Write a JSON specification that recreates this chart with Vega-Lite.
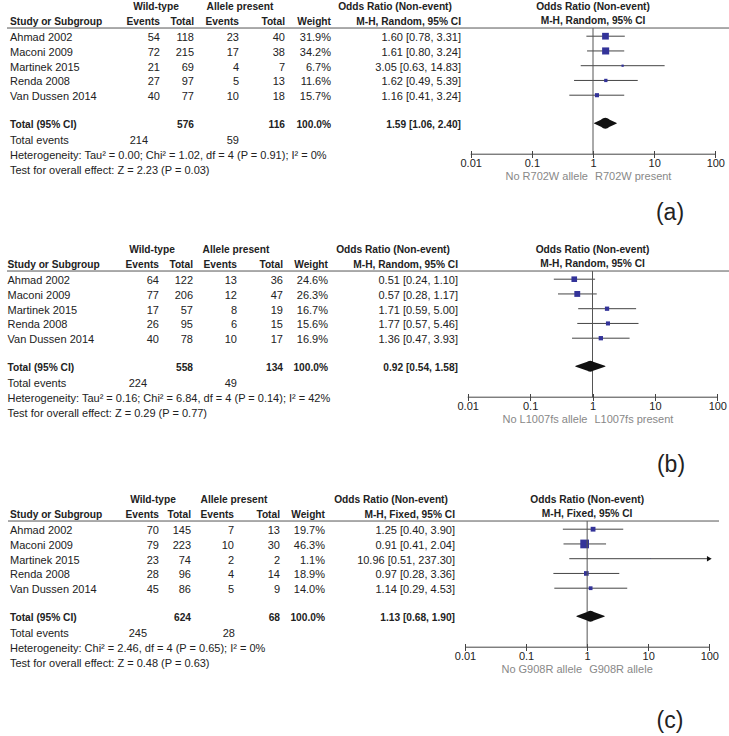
{
"$schema": "https://vega.github.io/schema/vega-lite/v6.json",
"padding": 0,
"spacing": 0,
"background": "white",
"config": {"view": {"stroke": null}, "text": {"font": "Liberation Sans", "fontSize": 11, "color": "#222", "baseline": "middle"},
"axis": {"labelFont": "Liberation Sans", "labelFontSize": 11, "labelColor": "#222", "tickColor": "#444", "tickSize": 7, "domain": false, "grid": false, "labelPadding": 0, "labelFlush": false, "labelOverlap": false}},
"datasets": {
"studies": [
{"p":"a","row":1,"study":"Ahmad 2002","we":54,"wt":118,"ae":23,"at":40,"w":0.319,"or":1.60,"lo":0.78,"hi":3.31},
{"p":"a","row":2,"study":"Maconi 2009","we":72,"wt":215,"ae":17,"at":38,"w":0.342,"or":1.61,"lo":0.80,"hi":3.24},
{"p":"a","row":3,"study":"Martinek 2015","we":21,"wt":69,"ae":4,"at":7,"w":0.067,"or":3.05,"lo":0.63,"hi":14.83},
{"p":"a","row":4,"study":"Renda 2008","we":27,"wt":97,"ae":5,"at":13,"w":0.116,"or":1.62,"lo":0.49,"hi":5.39},
{"p":"a","row":5,"study":"Van Dussen 2014","we":40,"wt":77,"ae":10,"at":18,"w":0.157,"or":1.16,"lo":0.41,"hi":3.24},
{"p":"b","row":1,"study":"Ahmad 2002","we":64,"wt":122,"ae":13,"at":36,"w":0.246,"or":0.51,"lo":0.24,"hi":1.10},
{"p":"b","row":2,"study":"Maconi 2009","we":77,"wt":206,"ae":12,"at":47,"w":0.263,"or":0.57,"lo":0.28,"hi":1.17},
{"p":"b","row":3,"study":"Martinek 2015","we":17,"wt":57,"ae":8,"at":19,"w":0.167,"or":1.71,"lo":0.59,"hi":5.00},
{"p":"b","row":4,"study":"Renda 2008","we":26,"wt":95,"ae":6,"at":15,"w":0.156,"or":1.77,"lo":0.57,"hi":5.46},
{"p":"b","row":5,"study":"Van Dussen 2014","we":40,"wt":78,"ae":10,"at":17,"w":0.169,"or":1.36,"lo":0.47,"hi":3.93},
{"p":"c","row":1,"study":"Ahmad 2002","we":70,"wt":145,"ae":7,"at":13,"w":0.197,"or":1.25,"lo":0.40,"hi":3.90},
{"p":"c","row":2,"study":"Maconi 2009","we":79,"wt":223,"ae":10,"at":30,"w":0.463,"or":0.91,"lo":0.41,"hi":2.04},
{"p":"c","row":3,"study":"Martinek 2015","we":23,"wt":74,"ae":2,"at":2,"w":0.011,"or":10.96,"lo":0.51,"hi":237.30},
{"p":"c","row":4,"study":"Renda 2008","we":28,"wt":96,"ae":4,"at":14,"w":0.189,"or":0.97,"lo":0.28,"hi":3.36},
{"p":"c","row":5,"study":"Van Dussen 2014","we":45,"wt":86,"ae":5,"at":9,"w":0.140,"or":1.14,"lo":0.29,"hi":4.53}
],
"totals": [
{"p":"a","wt":576,"at":116,"w":1,"or":1.59,"lo":1.06,"hi":2.40,"tw":214,"ta":59,"method":"Random","het":"Heterogeneity: Tau² = 0.00; Chi² = 1.02, df = 4 (P = 0.91); I² = 0%","test":"Test for overall effect: Z = 2.23 (P = 0.03)","left":"No R702W allele","right":"R702W present","label":"(a)"},
{"p":"b","wt":558,"at":134,"w":1,"or":0.92,"lo":0.54,"hi":1.58,"tw":224,"ta":49,"method":"Random","het":"Heterogeneity: Tau² = 0.16; Chi² = 6.84, df = 4 (P = 0.14); I² = 42%","test":"Test for overall effect: Z = 0.29 (P = 0.77)","left":"No L1007fs allele","right":"L1007fs present","label":"(b)"},
{"p":"c","wt":624,"at":68,"w":1,"or":1.13,"lo":0.68,"hi":1.90,"tw":245,"ta":28,"method":"Fixed","het":"Heterogeneity: Chi² = 2.46, df = 4 (P = 0.65); I² = 0%","test":"Test for overall effect: Z = 0.48 (P = 0.63)","left":"No G908R allele","right":"G908R allele","label":"(c)"}
]
},
"vconcat": [
{
"width": 729, "height": 243,
"resolve": {"scale": {"x": "independent", "y": "independent"}},
"layer": [
{"layer": [
{"data": {"name": "studies"},
"transform": [{"filter": "datum.p === 'a'"},{"calculate": "format(datum.w, '.1%')", "as": "wtxt"},{"calculate": "format(datum.or, '.2f') + ' [' + format(datum.lo, '.2f') + ', ' + format(datum.hi, '.2f') + ']'", "as": "ci"}],
"encoding": {"y": {"field": "row", "type": "quantitative", "scale": {"domain": [-1, 10], "range": [8.7, 170.95], "nice": false, "zero": false}, "axis": null}},
"layer": [
{"mark": {"type": "text", "align": "left"}, "encoding": {"x": {"datum": 10, "scale": {"domain": [0, 729], "range": [0, 729], "nice": false}, "axis": null}, "text": {"field": "study"}}},
{"mark": {"type": "text", "align": "right"}, "encoding": {"x": {"datum": 160, "axis": null}, "text": {"field": "we"}}},
{"mark": {"type": "text", "align": "right"}, "encoding": {"x": {"datum": 194, "axis": null}, "text": {"field": "wt"}}},
{"mark": {"type": "text", "align": "right"}, "encoding": {"x": {"datum": 239, "axis": null}, "text": {"field": "ae"}}},
{"mark": {"type": "text", "align": "right"}, "encoding": {"x": {"datum": 285, "axis": null}, "text": {"field": "at"}}},
{"mark": {"type": "text", "align": "right"}, "encoding": {"x": {"datum": 331, "axis": null}, "text": {"field": "wtxt"}}},
{"mark": {"type": "text", "align": "right"}, "encoding": {"x": {"datum": 461, "axis": null}, "text": {"field": "ci"}}}
]},
{"data": {"name": "totals"},
"transform": [{"filter": "datum.p === 'a'"},{"calculate": "format(datum.w, '.1%')", "as": "wtxt"},{"calculate": "format(datum.or, '.2f') + ' [' + format(datum.lo, '.2f') + ', ' + format(datum.hi, '.2f') + ']'", "as": "ci"},{"calculate": "'M-H, ' + datum.method + ', 95% CI'", "as": "mh"}],
"layer": [
{"mark": {"type": "rule", "color": "#555", "strokeWidth": 1}, "encoding": {"x": {"datum": 7, "scale": {"domain": [0, 729], "range": [0, 729], "nice": false}, "axis": null}, "x2": {"datum": 729}, "y": {"datum": 0.31, "scale": {"domain": [-1, 10], "range": [8.7, 170.95], "nice": false, "zero": false}, "axis": null}}},
{"mark": {"type": "text", "align": "center", "fontWeight": "bold", "fontSize": 10.2}, "encoding": {"x": {"datum": 156, "axis": null}, "y": {"datum": -1.14, "axis": null}, "text": {"value": "Wild-type"}}},
{"mark": {"type": "text", "align": "center", "fontWeight": "bold", "fontSize": 10.2}, "encoding": {"x": {"datum": 240, "axis": null}, "y": {"datum": -1.14, "axis": null}, "text": {"value": "Allele present"}}},
{"mark": {"type": "text", "align": "center", "fontWeight": "bold", "fontSize": 10.2}, "encoding": {"x": {"datum": 395, "axis": null}, "y": {"datum": -1.14, "axis": null}, "text": {"value": "Odds Ratio (Non-event)"}}},
{"mark": {"type": "text", "align": "left", "fontWeight": "bold", "fontSize": 10.2}, "encoding": {"x": {"datum": 10, "axis": null}, "y": {"datum": -0.13, "axis": null}, "text": {"value": "Study or Subgroup"}}},
{"mark": {"type": "text", "align": "right", "fontWeight": "bold", "fontSize": 10.2}, "encoding": {"x": {"datum": 160, "axis": null}, "y": {"datum": -0.13, "axis": null}, "text": {"value": "Events"}}},
{"mark": {"type": "text", "align": "right", "fontWeight": "bold", "fontSize": 10.2}, "encoding": {"x": {"datum": 194, "axis": null}, "y": {"datum": -0.13, "axis": null}, "text": {"value": "Total"}}},
{"mark": {"type": "text", "align": "right", "fontWeight": "bold", "fontSize": 10.2}, "encoding": {"x": {"datum": 239, "axis": null}, "y": {"datum": -0.13, "axis": null}, "text": {"value": "Events"}}},
{"mark": {"type": "text", "align": "right", "fontWeight": "bold", "fontSize": 10.2}, "encoding": {"x": {"datum": 285, "axis": null}, "y": {"datum": -0.13, "axis": null}, "text": {"value": "Total"}}},
{"mark": {"type": "text", "align": "right", "fontWeight": "bold", "fontSize": 10.2}, "encoding": {"x": {"datum": 331, "axis": null}, "y": {"datum": -0.13, "axis": null}, "text": {"value": "Weight"}}},
{"mark": {"type": "text", "align": "right", "fontWeight": "bold", "fontSize": 10.2}, "encoding": {"x": {"datum": 461, "axis": null}, "y": {"datum": -0.13, "axis": null}, "text": {"field": "mh"}}},
{"mark": {"type": "text", "align": "left", "fontWeight": "bold", "fontSize": 10.2}, "encoding": {"x": {"datum": 10, "axis": null}, "y": {"datum": 6.86, "axis": null}, "text": {"value": "Total (95% CI)"}}},
{"mark": {"type": "text", "align": "right", "fontWeight": "bold", "fontSize": 10.2}, "encoding": {"x": {"datum": 194, "axis": null}, "y": {"datum": 6.86, "axis": null}, "text": {"field": "wt"}}},
{"mark": {"type": "text", "align": "right", "fontWeight": "bold", "fontSize": 10.2}, "encoding": {"x": {"datum": 285, "axis": null}, "y": {"datum": 6.86, "axis": null}, "text": {"field": "at"}}},
{"mark": {"type": "text", "align": "right", "fontWeight": "bold", "fontSize": 10.2}, "encoding": {"x": {"datum": 331, "axis": null}, "y": {"datum": 6.86, "axis": null}, "text": {"field": "wtxt"}}},
{"mark": {"type": "text", "align": "right", "fontWeight": "bold", "fontSize": 10.2}, "encoding": {"x": {"datum": 461, "axis": null}, "y": {"datum": 6.86, "axis": null}, "text": {"field": "ci"}}},
{"mark": {"type": "text", "align": "left"}, "encoding": {"x": {"datum": 10, "axis": null}, "y": {"datum": 8, "axis": null}, "text": {"value": "Total events"}}},
{"mark": {"type": "text", "align": "right"}, "encoding": {"x": {"datum": 148, "axis": null}, "y": {"datum": 8, "axis": null}, "text": {"field": "tw"}}},
{"mark": {"type": "text", "align": "right"}, "encoding": {"x": {"datum": 239, "axis": null}, "y": {"datum": 8, "axis": null}, "text": {"field": "ta"}}},
{"mark": {"type": "text", "align": "left"}, "encoding": {"x": {"datum": 10, "axis": null}, "y": {"datum": 8.96, "axis": null}, "text": {"field": "het"}}},
{"mark": {"type": "text", "align": "left"}, "encoding": {"x": {"datum": 10, "axis": null}, "y": {"datum": 10, "axis": null}, "text": {"field": "test"}}},
{"mark": {"type": "text", "align": "center", "fontSize": 23}, "encoding": {"x": {"datum": 670, "axis": null}, "y": {"datum": 12.85, "axis": null}, "text": {"field": "label"}}}
]}
]},
{"layer": [
{"data": {"name": "studies"},
"transform": [{"filter": "datum.p === 'a'"}],
"encoding": {"y": {"field": "row", "type": "quantitative", "scale": {"domain": [-1, 10], "range": [6.7, 168.95], "nice": false, "zero": false}, "axis": null}},
"layer": [
{"mark": {"type": "rule", "color": "#444", "strokeWidth": 1}, "encoding": {"x": {"field": "lo", "type": "quantitative", "scale": {"type": "log", "domain": [0.01, 100], "range": [470.7, 715.3], "clamp": true, "nice": false}, "axis": {"values": [0.01, 0.1, 1, 10, 100], "format": "~g", "title": null, "offset": -92.5}}, "x2": {"field": "hi"}}},
{"mark": {"type": "point", "shape": "square", "filled": true, "color": "#333399", "opacity": 1, "strokeWidth": 0}, "encoding": {"x": {"field": "or", "type": "quantitative", "axis": {"values": [0.01, 0.1, 1, 10, 100], "format": "~g", "title": null, "offset": -92.5}}, "size": {"field": "w", "type": "quantitative", "scale": {"type": "pow", "exponent": 1.4, "domain": [0, 0.5], "range": [0, 85]}, "legend": null}}},
{"transform": [{"filter": "datum.hi > 100"}], "mark": {"type": "point", "shape": "triangle-right", "filled": true, "color": "#111", "size": 30, "opacity": 1}, "encoding": {"x": {"field": "hi", "type": "quantitative", "axis": {"values": [0.01, 0.1, 1, 10, 100], "format": "~g", "title": null, "offset": -92.5}}}}
]},
{"data": {"name": "totals"},
"transform": [{"filter": "datum.p === 'a'"},{"calculate": "'M-H, ' + datum.method + ', 95% CI'", "as": "mh"}],
"layer": [
{"mark": {"type": "rule", "color": "#555", "strokeWidth": 1}, "encoding": {"x": {"datum": 1, "axis": {"values": [0.01, 0.1, 1, 10, 100], "format": "~g", "title": null, "offset": -92.5}}, "y": {"datum": 0.45, "scale": {"domain": [-1, 10], "range": [6.7, 168.95], "nice": false, "zero": false}, "axis": null}, "y2": {"datum": 9}}},
{"mark": {"type": "rule", "color": "#444", "strokeWidth": 1}, "encoding": {"x": {"datum": 0.01, "axis": {"values": [0.01, 0.1, 1, 10, 100], "format": "~g", "title": null, "offset": -92.5}}, "x2": {"datum": 100}, "y": {"datum": 9, "axis": null}}},
{"transform": [{"fold": ["lo", "or", "hi"], "as": ["key", "val"]}], "mark": {"type": "trail", "color": "#111"}, "encoding": {"x": {"field": "val", "type": "quantitative", "axis": {"values": [0.01, 0.1, 1, 10, 100], "format": "~g", "title": null, "offset": -92.5}}, "y": {"datum": 6.9, "axis": null}, "order": {"field": "val", "type": "quantitative"}, "size": {"condition": {"test": "datum.key === 'or'", "value": 11}, "value": 0}}},
{"mark": {"type": "text", "align": "center", "fontWeight": "bold", "fontSize": 10.2}, "encoding": {"x": {"datum": 1, "axis": {"values": [0.01, 0.1, 1, 10, 100], "format": "~g", "title": null, "offset": -92.5}}, "y": {"datum": -1, "axis": null}, "text": {"value": "Odds Ratio (Non-event)"}}},
{"mark": {"type": "text", "align": "center", "fontWeight": "bold", "fontSize": 10.2}, "encoding": {"x": {"datum": 1, "axis": {"values": [0.01, 0.1, 1, 10, 100], "format": "~g", "title": null, "offset": -92.5}}, "y": {"datum": 0, "axis": null}, "text": {"field": "mh"}}},
{"mark": {"type": "text", "align": "right", "dx": -5, "color": "#888"}, "encoding": {"x": {"datum": 1, "axis": {"values": [0.01, 0.1, 1, 10, 100], "format": "~g", "title": null, "offset": -92.5}}, "y": {"datum": 10.52, "axis": null}, "text": {"field": "left"}}},
{"mark": {"type": "text", "align": "left", "dx": 2, "color": "#888"}, "encoding": {"x": {"datum": 1, "axis": {"values": [0.01, 0.1, 1, 10, 100], "format": "~g", "title": null, "offset": -92.5}}, "y": {"datum": 10.52, "axis": null}, "text": {"field": "right"}}}
]}
]}
]
},
{
"width": 729, "height": 250,
"resolve": {"scale": {"x": "independent", "y": "independent"}},
"layer": [
{"layer": [
{"data": {"name": "studies"},
"transform": [{"filter": "datum.p === 'b'"},{"calculate": "format(datum.w, '.1%')", "as": "wtxt"},{"calculate": "format(datum.or, '.2f') + ' [' + format(datum.lo, '.2f') + ', ' + format(datum.hi, '.2f') + ']'", "as": "ci"}],
"encoding": {"y": {"field": "row", "type": "quantitative", "scale": {"domain": [-1, 10], "range": [8.7, 170.95], "nice": false, "zero": false}, "axis": null}},
"layer": [
{"mark": {"type": "text", "align": "left"}, "encoding": {"x": {"datum": 7.5, "scale": {"domain": [0, 729], "range": [0, 729], "nice": false}, "axis": null}, "text": {"field": "study"}}},
{"mark": {"type": "text", "align": "right"}, "encoding": {"x": {"datum": 159, "axis": null}, "text": {"field": "we"}}},
{"mark": {"type": "text", "align": "right"}, "encoding": {"x": {"datum": 193, "axis": null}, "text": {"field": "wt"}}},
{"mark": {"type": "text", "align": "right"}, "encoding": {"x": {"datum": 237, "axis": null}, "text": {"field": "ae"}}},
{"mark": {"type": "text", "align": "right"}, "encoding": {"x": {"datum": 283, "axis": null}, "text": {"field": "at"}}},
{"mark": {"type": "text", "align": "right"}, "encoding": {"x": {"datum": 328, "axis": null}, "text": {"field": "wtxt"}}},
{"mark": {"type": "text", "align": "right"}, "encoding": {"x": {"datum": 458, "axis": null}, "text": {"field": "ci"}}}
]},
{"data": {"name": "totals"},
"transform": [{"filter": "datum.p === 'b'"},{"calculate": "format(datum.w, '.1%')", "as": "wtxt"},{"calculate": "format(datum.or, '.2f') + ' [' + format(datum.lo, '.2f') + ', ' + format(datum.hi, '.2f') + ']'", "as": "ci"},{"calculate": "'M-H, ' + datum.method + ', 95% CI'", "as": "mh"}],
"layer": [
{"mark": {"type": "rule", "color": "#555", "strokeWidth": 1}, "encoding": {"x": {"datum": 7, "scale": {"domain": [0, 729], "range": [0, 729], "nice": false}, "axis": null}, "x2": {"datum": 729}, "y": {"datum": 0.31, "scale": {"domain": [-1, 10], "range": [8.7, 170.95], "nice": false, "zero": false}, "axis": null}}},
{"mark": {"type": "text", "align": "center", "fontWeight": "bold", "fontSize": 10.2}, "encoding": {"x": {"datum": 152, "axis": null}, "y": {"datum": -1.14, "axis": null}, "text": {"value": "Wild-type"}}},
{"mark": {"type": "text", "align": "center", "fontWeight": "bold", "fontSize": 10.2}, "encoding": {"x": {"datum": 236, "axis": null}, "y": {"datum": -1.14, "axis": null}, "text": {"value": "Allele present"}}},
{"mark": {"type": "text", "align": "center", "fontWeight": "bold", "fontSize": 10.2}, "encoding": {"x": {"datum": 393, "axis": null}, "y": {"datum": -1.14, "axis": null}, "text": {"value": "Odds Ratio (Non-event)"}}},
{"mark": {"type": "text", "align": "left", "fontWeight": "bold", "fontSize": 10.2}, "encoding": {"x": {"datum": 7.5, "axis": null}, "y": {"datum": -0.13, "axis": null}, "text": {"value": "Study or Subgroup"}}},
{"mark": {"type": "text", "align": "right", "fontWeight": "bold", "fontSize": 10.2}, "encoding": {"x": {"datum": 159, "axis": null}, "y": {"datum": -0.13, "axis": null}, "text": {"value": "Events"}}},
{"mark": {"type": "text", "align": "right", "fontWeight": "bold", "fontSize": 10.2}, "encoding": {"x": {"datum": 193, "axis": null}, "y": {"datum": -0.13, "axis": null}, "text": {"value": "Total"}}},
{"mark": {"type": "text", "align": "right", "fontWeight": "bold", "fontSize": 10.2}, "encoding": {"x": {"datum": 237, "axis": null}, "y": {"datum": -0.13, "axis": null}, "text": {"value": "Events"}}},
{"mark": {"type": "text", "align": "right", "fontWeight": "bold", "fontSize": 10.2}, "encoding": {"x": {"datum": 283, "axis": null}, "y": {"datum": -0.13, "axis": null}, "text": {"value": "Total"}}},
{"mark": {"type": "text", "align": "right", "fontWeight": "bold", "fontSize": 10.2}, "encoding": {"x": {"datum": 328, "axis": null}, "y": {"datum": -0.13, "axis": null}, "text": {"value": "Weight"}}},
{"mark": {"type": "text", "align": "right", "fontWeight": "bold", "fontSize": 10.2}, "encoding": {"x": {"datum": 458, "axis": null}, "y": {"datum": -0.13, "axis": null}, "text": {"field": "mh"}}},
{"mark": {"type": "text", "align": "left", "fontWeight": "bold", "fontSize": 10.2}, "encoding": {"x": {"datum": 7.5, "axis": null}, "y": {"datum": 6.86, "axis": null}, "text": {"value": "Total (95% CI)"}}},
{"mark": {"type": "text", "align": "right", "fontWeight": "bold", "fontSize": 10.2}, "encoding": {"x": {"datum": 193, "axis": null}, "y": {"datum": 6.86, "axis": null}, "text": {"field": "wt"}}},
{"mark": {"type": "text", "align": "right", "fontWeight": "bold", "fontSize": 10.2}, "encoding": {"x": {"datum": 283, "axis": null}, "y": {"datum": 6.86, "axis": null}, "text": {"field": "at"}}},
{"mark": {"type": "text", "align": "right", "fontWeight": "bold", "fontSize": 10.2}, "encoding": {"x": {"datum": 328, "axis": null}, "y": {"datum": 6.86, "axis": null}, "text": {"field": "wtxt"}}},
{"mark": {"type": "text", "align": "right", "fontWeight": "bold", "fontSize": 10.2}, "encoding": {"x": {"datum": 458, "axis": null}, "y": {"datum": 6.86, "axis": null}, "text": {"field": "ci"}}},
{"mark": {"type": "text", "align": "left"}, "encoding": {"x": {"datum": 7.5, "axis": null}, "y": {"datum": 8, "axis": null}, "text": {"value": "Total events"}}},
{"mark": {"type": "text", "align": "right"}, "encoding": {"x": {"datum": 147, "axis": null}, "y": {"datum": 8, "axis": null}, "text": {"field": "tw"}}},
{"mark": {"type": "text", "align": "right"}, "encoding": {"x": {"datum": 237, "axis": null}, "y": {"datum": 8, "axis": null}, "text": {"field": "ta"}}},
{"mark": {"type": "text", "align": "left"}, "encoding": {"x": {"datum": 7.5, "axis": null}, "y": {"datum": 8.96, "axis": null}, "text": {"field": "het"}}},
{"mark": {"type": "text", "align": "left"}, "encoding": {"x": {"datum": 7.5, "axis": null}, "y": {"datum": 10, "axis": null}, "text": {"field": "test"}}},
{"mark": {"type": "text", "align": "center", "fontSize": 23}, "encoding": {"x": {"datum": 671, "axis": null}, "y": {"datum": 13.46, "axis": null}, "text": {"field": "label"}}}
]}
]},
{"layer": [
{"data": {"name": "studies"},
"transform": [{"filter": "datum.p === 'b'"}],
"encoding": {"y": {"field": "row", "type": "quantitative", "scale": {"domain": [-1, 10], "range": [6.7, 168.95], "nice": false, "zero": false}, "axis": null}},
"layer": [
{"mark": {"type": "rule", "color": "#444", "strokeWidth": 1}, "encoding": {"x": {"field": "lo", "type": "quantitative", "scale": {"type": "log", "domain": [0.01, 100], "range": [467.7, 717.3], "clamp": true, "nice": false}, "axis": {"values": [0.01, 0.1, 1, 10, 100], "format": "~g", "title": null, "offset": -99.5}}, "x2": {"field": "hi"}}},
{"mark": {"type": "point", "shape": "square", "filled": true, "color": "#333399", "opacity": 1, "strokeWidth": 0}, "encoding": {"x": {"field": "or", "type": "quantitative", "axis": {"values": [0.01, 0.1, 1, 10, 100], "format": "~g", "title": null, "offset": -99.5}}, "size": {"field": "w", "type": "quantitative", "scale": {"type": "pow", "exponent": 1.4, "domain": [0, 0.5], "range": [0, 85]}, "legend": null}}},
{"transform": [{"filter": "datum.hi > 100"}], "mark": {"type": "point", "shape": "triangle-right", "filled": true, "color": "#111", "size": 30, "opacity": 1}, "encoding": {"x": {"field": "hi", "type": "quantitative", "axis": {"values": [0.01, 0.1, 1, 10, 100], "format": "~g", "title": null, "offset": -99.5}}}}
]},
{"data": {"name": "totals"},
"transform": [{"filter": "datum.p === 'b'"},{"calculate": "'M-H, ' + datum.method + ', 95% CI'", "as": "mh"}],
"layer": [
{"mark": {"type": "rule", "color": "#555", "strokeWidth": 1}, "encoding": {"x": {"datum": 1, "axis": {"values": [0.01, 0.1, 1, 10, 100], "format": "~g", "title": null, "offset": -99.5}}, "y": {"datum": 0.45, "scale": {"domain": [-1, 10], "range": [6.7, 168.95], "nice": false, "zero": false}, "axis": null}, "y2": {"datum": 9}}},
{"mark": {"type": "rule", "color": "#444", "strokeWidth": 1}, "encoding": {"x": {"datum": 0.01, "axis": {"values": [0.01, 0.1, 1, 10, 100], "format": "~g", "title": null, "offset": -99.5}}, "x2": {"datum": 100}, "y": {"datum": 9, "axis": null}}},
{"transform": [{"fold": ["lo", "or", "hi"], "as": ["key", "val"]}], "mark": {"type": "trail", "color": "#111"}, "encoding": {"x": {"field": "val", "type": "quantitative", "axis": {"values": [0.01, 0.1, 1, 10, 100], "format": "~g", "title": null, "offset": -99.5}}, "y": {"datum": 6.9, "axis": null}, "order": {"field": "val", "type": "quantitative"}, "size": {"condition": {"test": "datum.key === 'or'", "value": 11}, "value": 0}}},
{"mark": {"type": "text", "align": "center", "fontWeight": "bold", "fontSize": 10.2}, "encoding": {"x": {"datum": 1, "axis": {"values": [0.01, 0.1, 1, 10, 100], "format": "~g", "title": null, "offset": -99.5}}, "y": {"datum": -1, "axis": null}, "text": {"value": "Odds Ratio (Non-event)"}}},
{"mark": {"type": "text", "align": "center", "fontWeight": "bold", "fontSize": 10.2}, "encoding": {"x": {"datum": 1, "axis": {"values": [0.01, 0.1, 1, 10, 100], "format": "~g", "title": null, "offset": -99.5}}, "y": {"datum": 0, "axis": null}, "text": {"field": "mh"}}},
{"mark": {"type": "text", "align": "right", "dx": -5, "color": "#888"}, "encoding": {"x": {"datum": 1, "axis": {"values": [0.01, 0.1, 1, 10, 100], "format": "~g", "title": null, "offset": -99.5}}, "y": {"datum": 10.52, "axis": null}, "text": {"field": "left"}}},
{"mark": {"type": "text", "align": "left", "dx": 2, "color": "#888"}, "encoding": {"x": {"datum": 1, "axis": {"values": [0.01, 0.1, 1, 10, 100], "format": "~g", "title": null, "offset": -99.5}}, "y": {"datum": 10.52, "axis": null}, "text": {"field": "right"}}}
]}
]}
]
},
{
"width": 729, "height": 243,
"resolve": {"scale": {"x": "independent", "y": "independent"}},
"layer": [
{"layer": [
{"data": {"name": "studies"},
"transform": [{"filter": "datum.p === 'c'"},{"calculate": "format(datum.w, '.1%')", "as": "wtxt"},{"calculate": "format(datum.or, '.2f') + ' [' + format(datum.lo, '.2f') + ', ' + format(datum.hi, '.2f') + ']'", "as": "ci"}],
"encoding": {"y": {"field": "row", "type": "quantitative", "scale": {"domain": [-1, 10], "range": [8.7, 170.95], "nice": false, "zero": false}, "axis": null}},
"layer": [
{"mark": {"type": "text", "align": "left"}, "encoding": {"x": {"datum": 10, "scale": {"domain": [0, 729], "range": [0, 729], "nice": false}, "axis": null}, "text": {"field": "study"}}},
{"mark": {"type": "text", "align": "right"}, "encoding": {"x": {"datum": 159, "axis": null}, "text": {"field": "we"}}},
{"mark": {"type": "text", "align": "right"}, "encoding": {"x": {"datum": 191, "axis": null}, "text": {"field": "wt"}}},
{"mark": {"type": "text", "align": "right"}, "encoding": {"x": {"datum": 234, "axis": null}, "text": {"field": "ae"}}},
{"mark": {"type": "text", "align": "right"}, "encoding": {"x": {"datum": 280, "axis": null}, "text": {"field": "at"}}},
{"mark": {"type": "text", "align": "right"}, "encoding": {"x": {"datum": 325, "axis": null}, "text": {"field": "wtxt"}}},
{"mark": {"type": "text", "align": "right"}, "encoding": {"x": {"datum": 455, "axis": null}, "text": {"field": "ci"}}}
]},
{"data": {"name": "totals"},
"transform": [{"filter": "datum.p === 'c'"},{"calculate": "format(datum.w, '.1%')", "as": "wtxt"},{"calculate": "format(datum.or, '.2f') + ' [' + format(datum.lo, '.2f') + ', ' + format(datum.hi, '.2f') + ']'", "as": "ci"},{"calculate": "'M-H, ' + datum.method + ', 95% CI'", "as": "mh"}],
"layer": [
{"mark": {"type": "rule", "color": "#555", "strokeWidth": 1}, "encoding": {"x": {"datum": 8, "scale": {"domain": [0, 729], "range": [0, 729], "nice": false}, "axis": null}, "x2": {"datum": 719}, "y": {"datum": 0.31, "scale": {"domain": [-1, 10], "range": [8.7, 170.95], "nice": false, "zero": false}, "axis": null}}},
{"mark": {"type": "text", "align": "center", "fontWeight": "bold", "fontSize": 10.2}, "encoding": {"x": {"datum": 153, "axis": null}, "y": {"datum": -1.14, "axis": null}, "text": {"value": "Wild-type"}}},
{"mark": {"type": "text", "align": "center", "fontWeight": "bold", "fontSize": 10.2}, "encoding": {"x": {"datum": 234, "axis": null}, "y": {"datum": -1.14, "axis": null}, "text": {"value": "Allele present"}}},
{"mark": {"type": "text", "align": "center", "fontWeight": "bold", "fontSize": 10.2}, "encoding": {"x": {"datum": 391, "axis": null}, "y": {"datum": -1.14, "axis": null}, "text": {"value": "Odds Ratio (Non-event)"}}},
{"mark": {"type": "text", "align": "left", "fontWeight": "bold", "fontSize": 10.2}, "encoding": {"x": {"datum": 10, "axis": null}, "y": {"datum": -0.13, "axis": null}, "text": {"value": "Study or Subgroup"}}},
{"mark": {"type": "text", "align": "right", "fontWeight": "bold", "fontSize": 10.2}, "encoding": {"x": {"datum": 159, "axis": null}, "y": {"datum": -0.13, "axis": null}, "text": {"value": "Events"}}},
{"mark": {"type": "text", "align": "right", "fontWeight": "bold", "fontSize": 10.2}, "encoding": {"x": {"datum": 191, "axis": null}, "y": {"datum": -0.13, "axis": null}, "text": {"value": "Total"}}},
{"mark": {"type": "text", "align": "right", "fontWeight": "bold", "fontSize": 10.2}, "encoding": {"x": {"datum": 234, "axis": null}, "y": {"datum": -0.13, "axis": null}, "text": {"value": "Events"}}},
{"mark": {"type": "text", "align": "right", "fontWeight": "bold", "fontSize": 10.2}, "encoding": {"x": {"datum": 280, "axis": null}, "y": {"datum": -0.13, "axis": null}, "text": {"value": "Total"}}},
{"mark": {"type": "text", "align": "right", "fontWeight": "bold", "fontSize": 10.2}, "encoding": {"x": {"datum": 325, "axis": null}, "y": {"datum": -0.13, "axis": null}, "text": {"value": "Weight"}}},
{"mark": {"type": "text", "align": "right", "fontWeight": "bold", "fontSize": 10.2}, "encoding": {"x": {"datum": 455, "axis": null}, "y": {"datum": -0.13, "axis": null}, "text": {"field": "mh"}}},
{"mark": {"type": "text", "align": "left", "fontWeight": "bold", "fontSize": 10.2}, "encoding": {"x": {"datum": 10, "axis": null}, "y": {"datum": 6.86, "axis": null}, "text": {"value": "Total (95% CI)"}}},
{"mark": {"type": "text", "align": "right", "fontWeight": "bold", "fontSize": 10.2}, "encoding": {"x": {"datum": 191, "axis": null}, "y": {"datum": 6.86, "axis": null}, "text": {"field": "wt"}}},
{"mark": {"type": "text", "align": "right", "fontWeight": "bold", "fontSize": 10.2}, "encoding": {"x": {"datum": 280, "axis": null}, "y": {"datum": 6.86, "axis": null}, "text": {"field": "at"}}},
{"mark": {"type": "text", "align": "right", "fontWeight": "bold", "fontSize": 10.2}, "encoding": {"x": {"datum": 325, "axis": null}, "y": {"datum": 6.86, "axis": null}, "text": {"field": "wtxt"}}},
{"mark": {"type": "text", "align": "right", "fontWeight": "bold", "fontSize": 10.2}, "encoding": {"x": {"datum": 455, "axis": null}, "y": {"datum": 6.86, "axis": null}, "text": {"field": "ci"}}},
{"mark": {"type": "text", "align": "left"}, "encoding": {"x": {"datum": 10, "axis": null}, "y": {"datum": 8, "axis": null}, "text": {"value": "Total events"}}},
{"mark": {"type": "text", "align": "right"}, "encoding": {"x": {"datum": 147, "axis": null}, "y": {"datum": 8, "axis": null}, "text": {"field": "tw"}}},
{"mark": {"type": "text", "align": "right"}, "encoding": {"x": {"datum": 235, "axis": null}, "y": {"datum": 8, "axis": null}, "text": {"field": "ta"}}},
{"mark": {"type": "text", "align": "left"}, "encoding": {"x": {"datum": 10, "axis": null}, "y": {"datum": 8.96, "axis": null}, "text": {"field": "het"}}},
{"mark": {"type": "text", "align": "left"}, "encoding": {"x": {"datum": 10, "axis": null}, "y": {"datum": 10, "axis": null}, "text": {"field": "test"}}},
{"mark": {"type": "text", "align": "center", "fontSize": 23}, "encoding": {"x": {"datum": 670, "axis": null}, "y": {"datum": 13.9, "axis": null}, "text": {"field": "label"}}}
]}
]},
{"layer": [
{"data": {"name": "studies"},
"transform": [{"filter": "datum.p === 'c'"}],
"encoding": {"y": {"field": "row", "type": "quantitative", "scale": {"domain": [-1, 10], "range": [6.7, 168.95], "nice": false, "zero": false}, "axis": null}},
"layer": [
{"mark": {"type": "rule", "color": "#444", "strokeWidth": 1}, "encoding": {"x": {"field": "lo", "type": "quantitative", "scale": {"type": "log", "domain": [0.01, 100], "range": [465, 709.3], "clamp": true, "nice": false}, "axis": {"values": [0.01, 0.1, 1, 10, 100], "format": "~g", "title": null, "offset": -92.5}}, "x2": {"field": "hi"}}},
{"mark": {"type": "point", "shape": "square", "filled": true, "color": "#333399", "opacity": 1, "strokeWidth": 0}, "encoding": {"x": {"field": "or", "type": "quantitative", "axis": {"values": [0.01, 0.1, 1, 10, 100], "format": "~g", "title": null, "offset": -92.5}}, "size": {"field": "w", "type": "quantitative", "scale": {"type": "pow", "exponent": 1.4, "domain": [0, 0.5], "range": [0, 85]}, "legend": null}}},
{"transform": [{"filter": "datum.hi > 100"}], "mark": {"type": "point", "shape": "triangle-right", "filled": true, "color": "#111", "size": 30, "opacity": 1}, "encoding": {"x": {"field": "hi", "type": "quantitative", "axis": {"values": [0.01, 0.1, 1, 10, 100], "format": "~g", "title": null, "offset": -92.5}}}}
]},
{"data": {"name": "totals"},
"transform": [{"filter": "datum.p === 'c'"},{"calculate": "'M-H, ' + datum.method + ', 95% CI'", "as": "mh"}],
"layer": [
{"mark": {"type": "rule", "color": "#555", "strokeWidth": 1}, "encoding": {"x": {"datum": 1, "axis": {"values": [0.01, 0.1, 1, 10, 100], "format": "~g", "title": null, "offset": -92.5}}, "y": {"datum": 0.45, "scale": {"domain": [-1, 10], "range": [6.7, 168.95], "nice": false, "zero": false}, "axis": null}, "y2": {"datum": 9}}},
{"mark": {"type": "rule", "color": "#444", "strokeWidth": 1}, "encoding": {"x": {"datum": 0.01, "axis": {"values": [0.01, 0.1, 1, 10, 100], "format": "~g", "title": null, "offset": -92.5}}, "x2": {"datum": 100}, "y": {"datum": 9, "axis": null}}},
{"transform": [{"fold": ["lo", "or", "hi"], "as": ["key", "val"]}], "mark": {"type": "trail", "color": "#111"}, "encoding": {"x": {"field": "val", "type": "quantitative", "axis": {"values": [0.01, 0.1, 1, 10, 100], "format": "~g", "title": null, "offset": -92.5}}, "y": {"datum": 6.9, "axis": null}, "order": {"field": "val", "type": "quantitative"}, "size": {"condition": {"test": "datum.key === 'or'", "value": 11}, "value": 0}}},
{"mark": {"type": "text", "align": "center", "fontWeight": "bold", "fontSize": 10.2}, "encoding": {"x": {"datum": 1, "axis": {"values": [0.01, 0.1, 1, 10, 100], "format": "~g", "title": null, "offset": -92.5}}, "y": {"datum": -1, "axis": null}, "text": {"value": "Odds Ratio (Non-event)"}}},
{"mark": {"type": "text", "align": "center", "fontWeight": "bold", "fontSize": 10.2}, "encoding": {"x": {"datum": 1, "axis": {"values": [0.01, 0.1, 1, 10, 100], "format": "~g", "title": null, "offset": -92.5}}, "y": {"datum": 0, "axis": null}, "text": {"field": "mh"}}},
{"mark": {"type": "text", "align": "right", "dx": -5, "color": "#888"}, "encoding": {"x": {"datum": 1, "axis": {"values": [0.01, 0.1, 1, 10, 100], "format": "~g", "title": null, "offset": -92.5}}, "y": {"datum": 10.52, "axis": null}, "text": {"field": "left"}}},
{"mark": {"type": "text", "align": "left", "dx": 2, "color": "#888"}, "encoding": {"x": {"datum": 1, "axis": {"values": [0.01, 0.1, 1, 10, 100], "format": "~g", "title": null, "offset": -92.5}}, "y": {"datum": 10.52, "axis": null}, "text": {"field": "right"}}}
]}
]}
]
}
]
}
